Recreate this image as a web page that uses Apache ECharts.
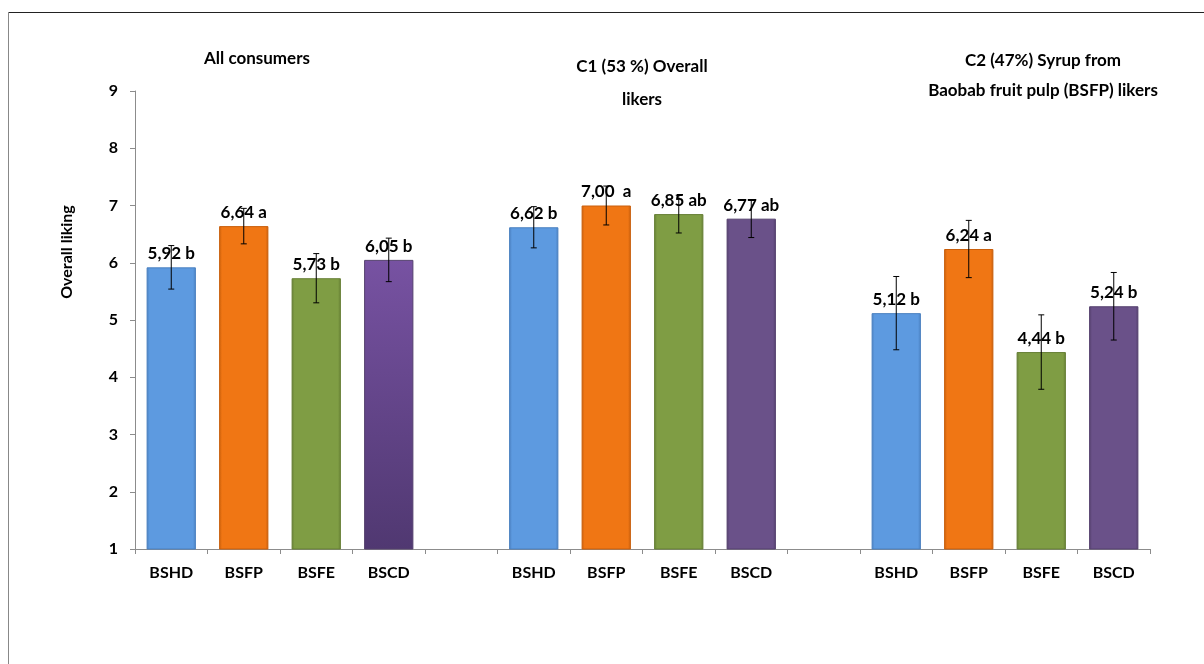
<!DOCTYPE html>
<html>
<head>
<meta charset="utf-8">
<script src="https://cdn.jsdelivr.net/npm/echarts@6/dist/echarts.min.js"></script>
<style>
  html, body { margin: 0; padding: 0; background: #fff; }
  #chart { width: 1204px; height: 664px; }
</style>
</head>
<body>
<div id="chart"></div>
<script>
// Products tested in each consumer segment
const products = ['BSHD', 'BSFP', 'BSFE', 'BSCD'];

// Mean overall liking per segment
const allConsumers = [5.92, 6.64, 5.73, 6.05];
const c1Likers     = [6.62, 7.00, 6.85, 6.77];
const c2Likers     = [5.12, 6.24, 4.44, 5.24];

// Half-width of the error bars
const allErr = [0.38, 0.31, 0.43, 0.38];
const c1Err  = [0.36, 0.34, 0.33, 0.33];
const c2Err  = [0.64, 0.50, 0.65, 0.59];

// Significance letters (Tukey groups)
const allLetters = ['b', 'a', 'b', 'b'];
const c1Letters  = ['b', ' a', 'ab', 'ab'];
const c2Letters  = ['b', 'a', 'b', 'b'];

// Segment headings
const segmentTitles = [
  ['All consumers'],
  ['C1 (53 %) Overall', 'likers'],
  ['C2 (47%) Syrup from', 'Baobab fruit pulp (BSFP) likers']
];

// Y axis
const yMin = 1, yMax = 9, yStep = 1;
const yName = 'Overall liking';

// ---- build the category axis with an empty slot between segments ----
const segments = [
  { values: allConsumers, err: allErr, letters: allLetters },
  { values: c1Likers,     err: c1Err,  letters: c1Letters },
  { values: c2Likers,     err: c2Err,  letters: c2Letters }
];

const palette = ['#5d9ae0', '#f07614', '#7f9d44', '#6a5189'];
const paletteEdge = ['#4a80c0', '#c95f0c', '#667f35', '#54406e'];

function barFill(pi, si) {
  if (pi === 3 && si === 0) {
    // darker purple fading downward in the first segment
    return new echarts.graphic.LinearGradient(0, 0, 0, 1, [
      { offset: 0, color: '#7752a2' },
      { offset: 1, color: '#503871' }
    ]);
  }
  return new echarts.graphic.LinearGradient(0, 0, 1, 0, [
    { offset: 0, color: paletteEdge[pi] },
    { offset: 0.06, color: palette[pi] },
    { offset: 0.94, color: palette[pi] },
    { offset: 1, color: paletteEdge[pi] }
  ]);
}

const categories = [];
const barData = [];
const errData = [];
segments.forEach((seg, si) => {
  if (si > 0) {
    categories.push('');
    barData.push('-');
  }
  seg.values.forEach((v, pi) => {
    const idx = categories.length;
    categories.push(products[pi]);
    barData.push({
      value: v,
      letter: seg.letters[pi],
      itemStyle: {
        color: barFill(pi, si),
        borderColor: paletteEdge[pi],
        borderWidth: 1
      }
    });
    errData.push([idx, v - seg.err[pi], v + seg.err[pi]]);
  });
});

const fontFamily = 'Lato, "Liberation Sans", sans-serif';

const titleGraphics = [];
const titleX = [257, 642, 1043];
const titleY = [[59], [67, 100], [61, 91]];
segmentTitles.forEach((lines, i) => {
  lines.forEach((t, j) => {
    titleGraphics.push({
      type: 'text',
      x: titleX[i],
      y: titleY[i][j],
      style: {
        text: t,
        font: 'bold 17px ' + fontFamily,
        fill: '#000',
        align: 'center',
        verticalAlign: 'middle'
      }
    });
  });
});

const chart = echarts.init(document.getElementById('chart'));
chart.setOption({
  animation: false,
  backgroundColor: '#fff',
  grid: { left: 135, right: 54, top: 91, bottom: 115 },
  xAxis: {
    type: 'category',
    data: categories,
    axisLine: { lineStyle: { color: '#8c8c8c', width: 1 } },
    axisTick: { show: true, length: 5, lineStyle: { color: '#8c8c8c' } },
    axisLabel: {
      color: '#000', fontWeight: 'bold', fontSize: 16, fontFamily: fontFamily,
      margin: 16, interval: 0
    },
    splitLine: { show: false }
  },
  yAxis: {
    type: 'value',
    min: yMin, max: yMax, interval: yStep,
    axisLine: { show: true, lineStyle: { color: '#8c8c8c', width: 1 } },
    axisTick: { show: true, length: 5, lineStyle: { color: '#8c8c8c' } },
    axisLabel: {
      color: '#000', fontWeight: 'bold', fontSize: 16, fontFamily: fontFamily, margin: 17
    },
    splitLine: { show: false }
  },
  graphic: [
    { type: 'line', shape: { x1: 8, y1: 12.5, x2: 1204, y2: 12.5 }, style: { stroke: '#222', lineWidth: 1 } },
    { type: 'line', shape: { x1: 8.5, y1: 12, x2: 8.5, y2: 664 }, style: { stroke: '#888', lineWidth: 1 } },
    {
      type: 'text',
      x: 67, y: 252,
      rotation: Math.PI / 2,
      style: {
        text: yName,
        font: 'bold 16px ' + fontFamily,
        fill: '#000',
        align: 'center',
        verticalAlign: 'middle'
      }
    }
  ].concat(titleGraphics),
  series: [
    {
      type: 'bar',
      data: barData,
      barWidth: '68%',
      z: 2,
      label: {
        show: true,
        position: 'top',
        distance: 5,
        color: '#000',
        fontWeight: 'bold',
        fontSize: 17,
        fontFamily: fontFamily,
        formatter: p => p.value.toFixed(2).replace('.', ',') + ' ' + p.data.letter
      }
    },
    {
      type: 'custom',
      z: 3,
      data: errData,
      encode: { x: 0, y: [1, 2] },
      renderItem: (params, api) => {
        const x = api.value(0);
        const lo = api.coord([x, api.value(1)]);
        const hi = api.coord([x, api.value(2)]);
        const cap = 3;
        const style = { stroke: '#000', lineWidth: 1 };
        return {
          type: 'group',
          children: [
            { type: 'line', shape: { x1: lo[0], y1: lo[1], x2: hi[0], y2: hi[1] }, style },
            { type: 'line', shape: { x1: lo[0] - cap, y1: lo[1], x2: lo[0] + cap, y2: lo[1] }, style },
            { type: 'line', shape: { x1: hi[0] - cap, y1: hi[1], x2: hi[0] + cap, y2: hi[1] }, style }
          ]
        };
      }
    }
  ]
});
</script>
</body>
</html>
